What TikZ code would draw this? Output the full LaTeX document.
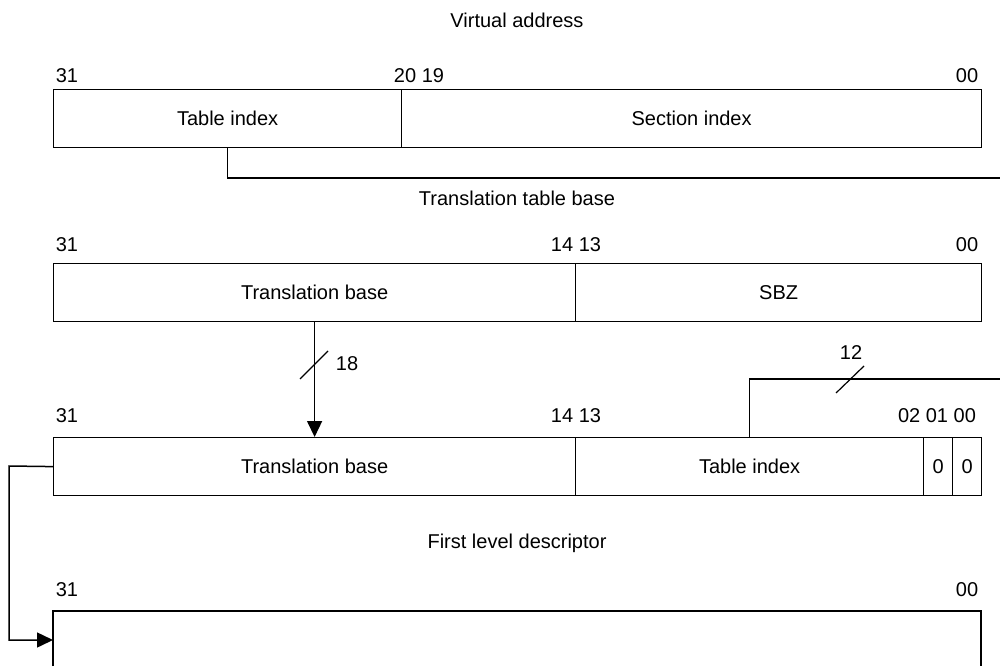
\documentclass[tikz,border=0pt]{standalone}
\usepackage{fontspec}
\setmainfont{Liberation Sans}
\usetikzlibrary{arrows.meta}
\begin{document}
\begin{tikzpicture}[x=1pt,y=-1pt,
  lbl/.style={inner sep=0pt,font=\fontsize{20}{24}\selectfont},
  field/.style={draw,line width=1.2pt,inner sep=0pt,anchor=north west,minimum height=58pt,font=\fontsize{20}{24}\selectfont},
  conn/.style={line width=1.5pt},
  tip/.style={-{Triangle[length=16pt,width=15pt]}}]
\useasboundingbox (0,0) rectangle (1000,666);
% Virtual address
\node[lbl] (vat) at (517,20) {Virtual address};
\node[lbl] (v31) at (67,76) {31};
\node[lbl] (v20) at (419,76) {20 19};
\node[lbl] (v00) at (967,76) {00};
\node[field,minimum width=348pt] (vti) at (53,89) {Table index};
\node[field,minimum width=580pt] (vsi) at (401,89) {Section index};
% Translation table base
\node[lbl] (ttt) at (517,198) {Translation table base};
\node[lbl] (t31) at (67,245) {31};
\node[lbl] (t14) at (576,245) {14 13};
\node[lbl] (t00) at (967,245) {00};
\node[field,minimum width=522pt] (ttb) at (53,263) {Translation base};
\node[field,minimum width=406pt] (tsbz) at (575,263) {SBZ};
% First-level descriptor address
\node[lbl] (a31) at (67,416) {31};
\node[lbl] (a14) at (576,416) {14 13};
\node[lbl] (a02) at (937,416) {02 01 00};
\node[field,minimum width=522pt] (atb) at (53,437) {Translation base};
\node[field,minimum width=348pt] (ati) at (575,437) {Table index};
\node[field,minimum width=29pt] (az1) at (923,437) {0};
\node[field,minimum width=29pt] (az0) at (952,437) {0};
% First level descriptor
\node[lbl] (fld) at (517,543) {First level descriptor};
\node[lbl] (f31) at (67,590) {31};
\node[lbl] (f00) at (967,590) {00};
\coordinate (dtl) at (53,611);
\coordinate (dtr) at (981,611);
\draw[line width=1.2pt] (53,666) -- (dtl) -- (dtr) -- (981,666);
\coordinate (din) at (53,640);
% connectors
\coordinate (r1) at (1000,178);
\draw[conn] (vti.south) |- (r1);
\draw[conn,tip] (ttb.south) -- (atb.north);
\draw[line width=1.2pt] (300,379) -- (328,351);
\node[lbl] (n18) at (347,364) {18};
\coordinate (r2) at (1000,379);
\draw[conn] (ati.north) |- (r2);
\draw[line width=1.2pt] (836,393) -- (864,366);
\node[lbl] (n12) at (851,353) {12};
\coordinate (lft) at (9,466);
\draw[conn,tip] (atb.west) -- (lft) |- (din);
\end{tikzpicture}
\end{document}
